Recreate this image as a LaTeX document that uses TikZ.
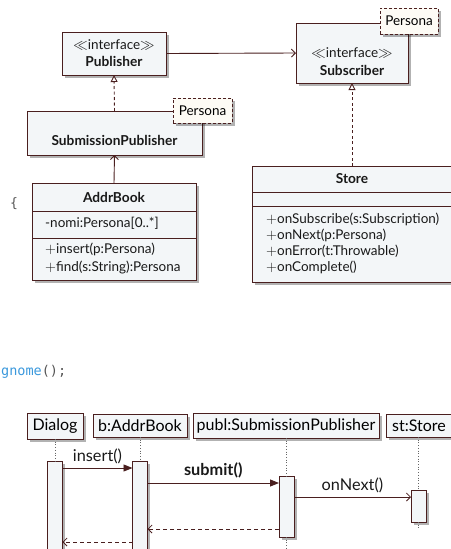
\documentclass[tikz,border=0pt]{standalone}
\usepackage{fontspec}
\setmainfont{Lato}
\setmonofont{DejaVu Sans Mono}
\usetikzlibrary{arrows.meta,shadows}
\definecolor{bord}{HTML}{4A1F1F}
\definecolor{boxfill}{HTML}{F3F6F8}
\definecolor{notefill}{HTML}{FDFBF5}
\definecolor{codeblue}{HTML}{3A98DC}
\definecolor{codegray}{HTML}{555555}
\begin{document}
\begin{tikzpicture}[x=1pt,y=-1pt,
  shad/.style={drop shadow={shadow xshift=2.5pt,shadow yshift=-3pt,opacity=0.3,fill=black}},
  cls/.style={draw=bord,fill=boxfill,line width=0.9pt,shad,inner sep=0pt,outer sep=0pt,anchor=north west},
  notebox/.style={draw=bord,fill=notefill,line width=0.8pt,dash pattern=on 3pt off 2pt,shad,inner sep=0pt,outer sep=0pt,anchor=north west,font=\fontsize{13.5}{15}\selectfont},
  ctext/.style={font=\fontsize{13.5}{15}\selectfont,inner sep=0pt,text=black!90},
  cbold/.style={font=\fontsize{13.7}{15}\selectfont\bfseries,inner sep=0pt,text=black!90},
  mtext/.style={ctext,anchor=west},
  sep/.style={draw=bord,line width=0.9pt},
  assoc/.style={draw=bord,line width=0.9pt,-{Straight Barb[length=4pt,width=8pt]}},
  real/.style={draw=bord,line width=0.9pt,dash pattern=on 3pt off 2.5pt,-{Triangle[open,length=7pt,width=7pt,fill=white]}},
  head/.style={draw=bord,fill=boxfill,line width=0.9pt,shad,inner sep=0pt,outer sep=0pt,anchor=north west,font=\fontsize{16}{18}\selectfont},
  act/.style={draw=bord,fill=boxfill,line width=0.9pt,shad,inner sep=0pt,outer sep=0pt,anchor=north west,minimum width=15pt},
  life/.style={draw=black!60,dotted,line width=0.7pt},
  sync/.style={draw=bord,line width=0.9pt,-{Triangle[length=9pt,width=7pt]}},
  async/.style={draw=bord,line width=0.8pt,-{Straight Barb[length=4pt,width=8pt]}},
  ret/.style={async,dash pattern=on 4pt off 3pt},
  lbl/.style={font=\fontsize{16.3}{18}\selectfont,inner sep=0pt,text=black!90}
]
\useasboundingbox (0,0) rectangle (450,549);

% ---- class diagram ----
\node[cls,minimum width=104pt,minimum height=43pt] (pub) at (62,32) {};
\node[ctext] (pubS) at (114,45) {$\ll$interface$\gg$};
\node[cbold] (pubN) at (114,61) {Publisher};

\node[cls,minimum width=112pt,minimum height=60pt] (sub) at (296,23) {};
\node[ctext] (subS) at (352,53) {$\ll$interface$\gg$};
\node[cbold] (subN) at (352,70) {Subscriber};
\node[notebox,minimum width=58pt,minimum height=26pt] (note1) at (380,8) {Persona};

\node[cls,minimum width=175pt,minimum height=44pt] (spub) at (27,111) {};
\node[cbold] (spubN) at (114.5,140) {SubmissionPublisher};
\node[notebox,minimum width=59pt,minimum height=25pt] (note2) at (173,98) {Persona};

\node[cls,minimum width=164pt,minimum height=97pt] (addr) at (32,183) {};
\node[cbold] (addrN) at (114,197) {AddrBook};
\draw[sep] (addr.west |- 0,211) -- (addr.east |- 0,211);
\node[mtext] (addrA) at (45,223) {-nomi:Persona[0..*]};
\draw[sep] (addr.west |- 0,238) -- (addr.east |- 0,238);
\node[mtext] (addrO1) at (45,249) {$+$insert(p:Persona)};
\node[mtext] (addrO2) at (45,267) {$+$find(s:String):Persona};

\node[cls,minimum width=200pt,minimum height=116pt] (store) at (252,166) {};
\node[cbold] (storeN) at (352,179) {Store};
\draw[sep] (store.west |- 0,192) -- (store.east |- 0,192);
\draw[sep] (store.west |- 0,206) -- (store.east |- 0,206);
\node[mtext] (storeO1) at (266,219) {$+$onSubscribe(s:Subscription)};
\node[mtext] (storeO2) at (266,235) {$+$onNext(p:Persona)};
\node[mtext] (storeO3) at (266,251) {$+$onError(t:Throwable)};
\node[mtext] (storeO4) at (266,267) {$+$onComplete()};

\draw[assoc] (pub.east) -- (sub.west);
\draw[real] (spub.north) -- (pub.south);
\draw[real] (store.north) -- (sub.south);
\draw[assoc] (addr.north) -- (spub.south);

% ---- stray code text ----
\node[font=\fontsize{13}{15}\ttfamily,text=codegray,inner sep=0pt] (brace) at (14,204) {\{};
\node[font=\fontsize{13.5}{15}\ttfamily,inner sep=0pt,anchor=west] (code) at (1,372) {\textcolor{codeblue}{gnome}\textcolor{codegray}{();}};

% ---- sequence diagram ----
\node[head,minimum width=56pt,minimum height=26pt] (dlg) at (27,413) {Dialog};
\node[head,minimum width=94pt,minimum height=23pt] (ab) at (93,414) {b:AddrBook};
\node[head,minimum width=186pt,minimum height=25pt] (publ) at (193,413) {publ:SubmissionPublisher};
\node[head,minimum width=66pt,minimum height=23pt] (st) at (386,414) {st:Store};

\node[act,minimum height=100pt] (dlgA) at (47.5,461) {};
\node[act,minimum height=100pt] (abA) at (132.5,461) {};
\node[act,minimum height=61pt] (publA) at (279,476) {};
\node[act,minimum height=32pt] (stA) at (411,490) {};

\coordinate (publEnd) at (286.5,549);
\coordinate (stEnd) at (418.5,530);
\draw[life] (dlg.south) -- (dlgA.north);
\draw[life] (ab.south) -- (abA.north);
\draw[life] (publ.south -| publA.north) -- (publA.north);
\draw[life] (publA.south) -- (publEnd);
\draw[life] (st.south -| stA.north) -- (stA.north);
\draw[life] (stA.south) -- (stEnd);

\draw[sync] (dlgA.north east |- 0,468) -- (abA.north west |- 0,468)
  node[lbl,midway,above=4pt] (insL) {insert()};
\draw[sync] (abA.north east |- 0,483) -- (publA.north west |- 0,483)
  node[lbl,midway,above=4pt,font=\fontsize{16.3}{18}\selectfont\bfseries] (subL) {submit()};
\draw[async] (publA.north east |- 0,497) -- (stA.north west |- 0,497)
  node[lbl,midway,above=4pt] (nextL) {onNext()};
\draw[ret] (publA.north west |- 0,529) -- (abA.north east |- 0,529);
\draw[ret] (abA.north west |- 0,542) -- (dlgA.north east |- 0,542);
\end{tikzpicture}
\end{document}
